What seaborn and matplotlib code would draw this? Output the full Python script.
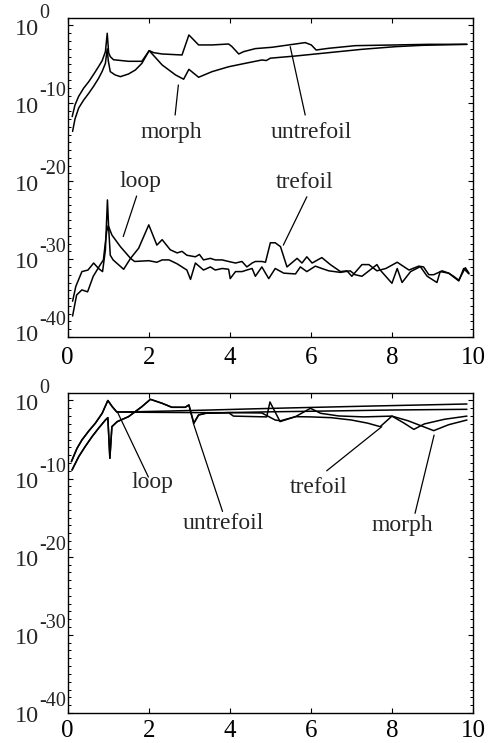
import numpy as np
import pandas as pd
import matplotlib
matplotlib.use("Agg")
import matplotlib.pyplot as plt
import matplotlib.ticker as mticker
import seaborn as sns

# ---------------- data (x, log10 y) ----------------
# top panel
top_untrefoil_x = [0.11, 0.18, 0.27, 0.39, 0.52, 0.64, 0.76, 0.85, 0.93, 0.975, 1.01, 1.05, 1.13, 1.5, 1.83, 2.01, 2.12,
                   2.33, 2.82, 2.99, 3.23, 3.56, 3.97, 4.05, 4.22, 4.34, 4.63, 5.04, 5.45, 5.86, 6.01, 6.13, 6.44,
                   7.10, 8.09, 8.91, 9.85]
top_untrefoil_e = [-11.7, -10.2, -9.1, -8.07, -7.21, -6.27, -5.29, -4.52, -3.36, -1.0, -3.5, -4.0, -4.4, -4.6, -4.6,
                   -3.23, -3.49, -3.66, -3.79, -1.22, -2.5, -2.5, -2.38, -2.7, -3.66, -3.36, -2.97, -2.8, -2.5, -2.2,
                   -2.5, -3.15, -2.93, -2.59, -2.5, -2.42, -2.42]

top_morph_x = [0.12, 0.18, 0.27, 0.39, 0.52, 0.64, 0.76, 0.85, 0.93, 0.975, 1.0, 1.05, 1.17, 1.3, 1.5, 1.67, 1.83,
               2.01, 2.33, 2.66, 2.86, 2.99, 3.23, 3.56, 3.97, 4.38, 4.79, 4.9, 5.0, 5.62, 6.44, 7.26, 8.09, 8.74, 9.85]
top_morph_e = [-13.6, -12.0, -10.6, -9.6, -8.7, -7.8, -6.8, -5.9, -4.86, -3.0, -4.5, -5.93, -6.35, -6.57, -6.23,
               -5.71, -4.86, -3.23, -5.07, -6.35, -6.9, -5.63, -6.65, -5.93, -5.3, -4.86, -4.43, -4.5, -4.2, -3.92,
               -3.49, -3.06, -2.72, -2.55, -2.42]

top_loop_x = [0.12, 0.22, 0.35, 0.49, 0.63, 0.80, 0.88, 0.96, 1.0, 1.09, 1.3, 1.55, 1.65, 2.0, 2.2, 2.33, 2.5, 2.7,
              2.82, 2.94, 3.03, 3.15, 3.35, 3.52, 3.64, 3.81, 3.97, 4.01, 4.14, 4.3, 4.42, 4.55, 4.63, 4.79, 4.96,
              5.12, 5.33, 5.62, 5.74, 5.9, 6.11, 6.27, 6.44, 6.73, 6.97, 7.09, 7.26, 7.63, 7.71, 8.0, 8.13, 8.25,
              8.46, 8.7, 8.87, 9.11, 9.19, 9.4, 9.52, 9.65, 9.81, 9.9]
top_loop_e = [-37.3, -34.6, -33.95, -34.2, -32.2, -30.74, -30.1, -26.5, -25.7, -26.9, -28.4, -29.9, -30.3, -30.2,
              -30.4, -30.1, -30.1, -30.6, -31.0, -31.4, -32.6, -30.5, -31.4, -31.0, -31.4, -31.2, -31.3, -32.5,
              -31.6, -31.6, -31.4, -31.2, -32.2, -31.0, -32.5, -31.2, -31.8, -31.9, -31.0, -31.6, -30.9, -31.2,
              -31.5, -31.7, -31.5, -32.0, -32.2, -30.7, -31.4, -33.1, -31.2, -33.0, -31.6, -30.96, -32.2, -33.0,
              -31.6, -31.8, -32.2, -32.7, -31.1, -31.8]

top_trefoil_x = [0.12, 0.2, 0.35, 0.5, 0.64, 0.76, 0.86, 0.93, 0.98, 1.01, 1.05, 1.12, 1.38, 1.55, 1.75, 2.0, 2.2,
                 2.33, 2.53, 2.7, 2.82, 2.94, 3.15, 3.25, 3.35, 3.52, 3.64, 3.81, 3.97, 4.14, 4.3, 4.42, 4.55, 4.63,
                 4.79, 4.88, 5.0, 5.12, 5.25, 5.41, 5.66, 5.78, 5.9, 6.03, 6.27, 6.48, 6.73, 6.89, 7.01, 7.26, 7.43,
                 7.63, 7.85, 8.13, 8.42, 8.66, 8.78, 8.91, 9.03, 9.24, 9.4, 9.65, 9.77, 9.9]
top_trefoil_e = [-35.4, -33.5, -31.6, -31.4, -30.5, -31.2, -31.6, -28.8, -22.4, -26.0, -29.5, -30.1, -31.3, -29.9,
                 -28.6, -25.6, -28.2, -27.5, -28.8, -29.2, -29.0, -29.5, -29.7, -29.4, -30.1, -29.9, -30.1, -30.1,
                 -30.3, -30.5, -30.3, -31.0, -30.5, -30.3, -30.3, -30.4, -27.9, -27.9, -28.4, -31.0, -29.9, -30.5,
                 -29.7, -30.5, -29.8, -30.7, -31.6, -31.5, -32.2, -30.7, -30.7, -31.5, -31.2, -30.4, -31.4, -30.9,
                 -31.0, -32.0, -32.0, -31.5, -31.8, -32.8, -31.2, -31.9]

# bottom panel
bot_loop_x = [0.09, 0.23, 0.35, 0.52, 0.68, 0.85, 0.99, 1.1, 1.21, 1.6, 2.5, 3.5, 4.5, 5.5, 6.5, 7.5, 8.5, 9.85]
bot_loop_e = [-7.83, -6.12, -5.06, -3.9, -2.92, -1.64, 0.0, -0.8, -1.47, -1.45, -1.35, -1.22, -1.08, -0.95, -0.83,
              -0.71, -0.6, -0.45]

bot_trefoil_x = [0.09, 0.23, 0.35, 0.52, 0.68, 0.85, 0.99, 1.1, 1.21, 1.6, 2.5, 3.5, 3.97, 4.09, 4.5, 4.91, 4.99,
                 5.24, 5.62, 6.0, 6.5, 7.0, 7.4, 7.71, 8.0, 8.3, 8.54, 8.8, 9.3, 9.85]
bot_trefoil_e = [-7.83, -6.12, -5.06, -3.9, -2.92, -1.64, 0.0, -0.8, -1.47, -1.5, -1.53, -1.56, -1.56, -2.0, -2.05,
                 -2.1, -0.19, -2.7, -2.07, -2.1, -2.2, -2.5, -2.9, -3.35, -2.0, -2.9, -3.7, -3.0, -2.4, -2.0]

bot_untrefoil_x = [0.106, 0.27, 0.43, 0.6, 0.76, 0.93, 0.99, 1.04, 1.09, 1.22, 1.5, 1.83, 2.04, 2.33, 2.57, 2.9,
                   2.99, 3.11, 3.23, 3.4, 4.0, 5.0, 6.0, 7.0, 8.0, 9.0, 9.85]
bot_untrefoil_e = [-8.9, -7.2, -5.9, -4.63, -3.56, -2.5, -2.2, -7.4, -3.35, -2.71, -2.07, -0.79, 0.15, -0.36, -0.87,
                   -0.87, -0.57, -2.92, -1.85, -1.64, -1.55, -1.45, -1.38, -1.3, -1.22, -1.17, -1.13]

bot_morph_x = [0.106, 0.27, 0.43, 0.6, 0.76, 0.93, 0.99, 1.04, 1.09, 1.22, 1.5, 1.83, 2.04, 2.33, 2.57, 2.9, 2.99,
               3.11, 3.23, 3.4, 4.0, 4.79, 5.12, 5.25, 5.62, 5.99, 6.24, 6.69, 7.3, 8.0, 8.4, 8.7, 9.03, 9.4, 9.85]
bot_morph_e = [-8.9, -7.2, -5.9, -4.63, -3.56, -2.5, -2.2, -7.4, -3.35, -2.71, -2.07, -0.79, 0.15, -0.36, -0.87,
               -0.87, -0.57, -2.92, -1.85, -1.64, -1.55, -1.6, -2.5, -2.6, -2.07, -1.0, -1.64, -1.98, -2.1, -2.0,
               -2.6, -3.2, -3.86, -3.1, -2.5]

x_ticks = [0, 2, 4, 6, 8, 10]
y_major_exp = [0, -10, -20, -30, -40]
y_major_text = ["0", "-10", "-20", "-30", "-40"]
y_minor_exp = [e for e in range(-40, 2) if e % 10 != 0]

# annotations: label, text (x, exp), pointer start (x, exp), pointer end (x, exp)
top_labels = [
    ("morph", (2.56, -14.4), (2.65, -11.5), (2.73, -7.64)),
    ("untrefoil", (6.0, -14.4), (5.86, -11.5), (5.49, -2.72)),
    ("loop", (1.79, -20.7), (1.70, -21.9), (1.37, -27.1)),
    ("trefoil", (5.85, -20.9), (5.90, -22.0), (5.32, -28.2)),
]
bot_labels = [
    ("loop", (2.08, -11.24), (1.99, -9.8), (1.22, -1.4)),
    ("untrefoil", (3.83, -16.45), (3.82, -14.2), (3.10, -2.92)),
    ("trefoil", (6.18, -11.9), (6.39, -9.0), (7.75, -3.35)),
    ("morph", (8.26, -16.7), (8.57, -14.44), (9.04, -4.43)),
]


def make_df(series):
    frames = []
    for name, xs, es in series:
        frames.append(pd.DataFrame({"x": xs, "y": 10.0 ** np.array(es, dtype=float), "curve": name}))
    return pd.concat(frames, ignore_index=True)


df_top = make_df([
    ("untrefoil", top_untrefoil_x, top_untrefoil_e),
    ("morph", top_morph_x, top_morph_e),
    ("loop", top_loop_x, top_loop_e),
    ("trefoil", top_trefoil_x, top_trefoil_e),
])
df_bot = make_df([
    ("loop", bot_loop_x, bot_loop_e),
    ("trefoil", bot_trefoil_x, bot_trefoil_e),
    ("untrefoil", bot_untrefoil_x, bot_untrefoil_e),
    ("morph", bot_morph_x, bot_morph_e),
])

sns.set_style("ticks")
plt.rcParams["font.family"] = ["Liberation Serif", "DejaVu Serif"]

fig = plt.figure(figsize=(4.9, 7.43), dpi=100)
ax1 = fig.add_axes([0.1382, 0.5464, 0.8271, 0.4298])
ax2 = fig.add_axes([0.1382, 0.0404, 0.8271, 0.4311])


def style_axis(ax, df, labels, xpad, last_nudge):
    sns.lineplot(data=df, x="x", y="y", units="curve", estimator=None, color="black",
                 lw=1.1, legend=False, ax=ax)
    ax.set_yscale("log")
    ax.set_xlim(0, 10)
    ax.set_ylim(1e-40, 1e1)
    ax.set_xticks(x_ticks)
    ax.set_xticklabels([str(t) for t in x_ticks])
    ax.yaxis.set_major_locator(mticker.FixedLocator([10.0 ** e for e in y_major_exp]))
    ax.yaxis.set_minor_locator(mticker.FixedLocator([10.0 ** e for e in y_minor_exp]))
    ax.yaxis.set_major_formatter(mticker.NullFormatter())
    ax.yaxis.set_minor_formatter(mticker.NullFormatter())
    ax.set_xlabel("")
    ax.set_ylabel("")
    for s in ax.spines.values():
        s.set_visible(True)
        s.set_color("black")
        s.set_linewidth(1.0)
    ax.tick_params(which="both", direction="in", top=True, right=True, colors="black")
    ax.tick_params(axis="x", which="major", length=3.5, width=0.8, labelsize=18, pad=xpad)
    ax.tick_params(axis="y", which="major", length=3.5, width=0.8)
    ax.tick_params(axis="y", which="minor", length=2.0, width=0.7)
    # y tick labels drawn as base "10" plus raised exponent
    ytr = ax.get_yaxis_transform()
    for i, (e, etxt) in enumerate(zip(y_major_exp, y_major_text)):
        dy = last_nudge if i == len(y_major_exp) - 1 else 0
        ax.annotate("10", xy=(0, 10.0 ** e), xycoords=ytr, xytext=(-52.7, -9.3 + dy),
                    textcoords="offset pixels", ha="left", va="baseline", fontsize=17.5,
                    annotation_clip=False)
        ax.annotate(etxt, xy=(0, 10.0 ** e), xycoords=ytr, xytext=(-28.6, 7 + dy),
                    textcoords="offset pixels", ha="left", va="baseline", fontsize=14.5,
                    annotation_clip=False)
    for text, (tx, te), (px0, pe0), (px1, pe1) in labels:
        ax.plot([px0, px1], [10.0 ** pe0, 10.0 ** pe1], color="black", lw=0.9)
        ax.text(tx, 10.0 ** te, text, ha="center", va="baseline", fontsize=17)


style_axis(ax1, df_top, top_labels, xpad=7, last_nudge=5)
style_axis(ax2, df_bot, bot_labels, xpad=5, last_nudge=0)

fig.savefig("out.png", dpi=100, facecolor="white")
